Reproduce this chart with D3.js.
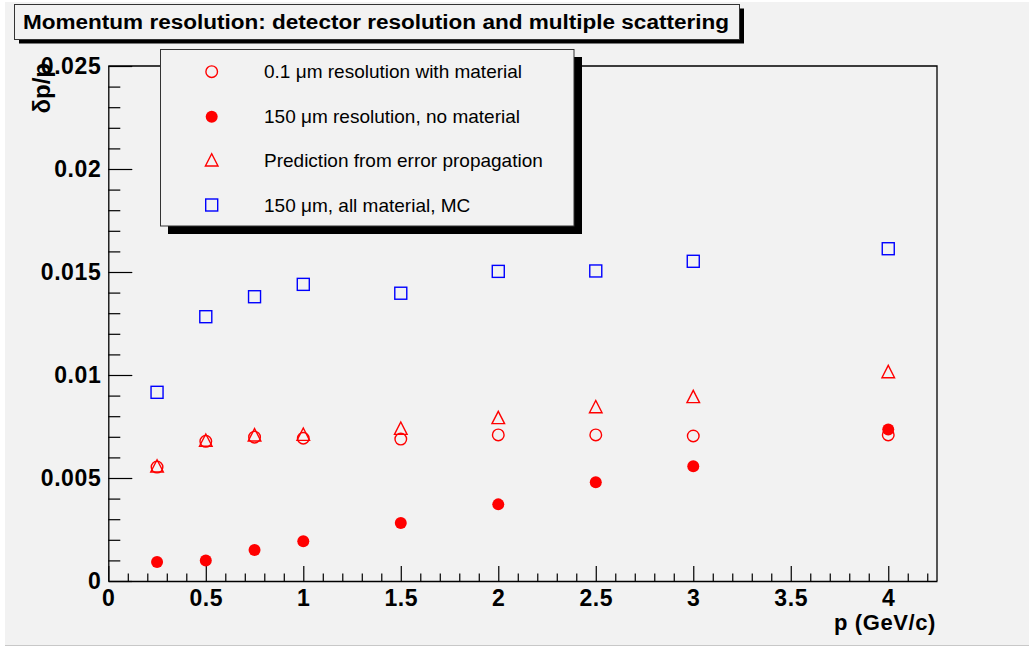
<!DOCTYPE html>
<html><head><meta charset="utf-8">
<script src="https://cdn.jsdelivr.net/npm/d3@7"></script>
<style>
html,body{margin:0;padding:0;background:#fff;}
text{font-family:"Liberation Sans",Arial,Helvetica,sans-serif;}
</style></head>
<body><svg id="c" width="1031" height="647"></svg>
<script>
// ---- data ----
const momentum = [0.25, 0.5, 0.75, 1, 1.5, 2, 2.5, 3, 4];
const res01WithMaterial = [0.00553, 0.00678, 0.00698, 0.00693, 0.00689, 0.00709, 0.00709, 0.00704, 0.00709];
const res150NoMaterial = [0.00092, 0.00100, 0.00150, 0.00193, 0.00282, 0.00372, 0.00479, 0.00557, 0.00736];
const predictionErrProp = [0.00558, 0.00683, 0.00709, 0.00712, 0.00741, 0.00793, 0.00846, 0.00895, 0.01016];
const res150AllMaterialMC = [0.00916, 0.01283, 0.01380, 0.01440, 0.01397, 0.01503, 0.01505, 0.01552, 0.01613];
const xTicks = [0, 0.5, 1, 1.5, 2, 2.5, 3, 3.5, 4];
const yTicks = [0, 0.005, 0.01, 0.015, 0.02, 0.025];
const legendLabels = ["0.1 \u03bcm resolution with material", "150 \u03bcm resolution, no material",
  "Prediction from error propagation", "150 \u03bcm, all material, MC"];
const titleText = "Momentum resolution: detector resolution and multiple scattering";

const svg = d3.select("#c");
// canvas
svg.append("rect").attr("x",5).attr("y",2).attr("width",1024).attr("height",643).attr("fill","#f2f2f2");
svg.append("line").attr("x1",5).attr("x2",1029).attr("y1",645.5).attr("y2",645.5).attr("stroke","#c8c8c8");

const x = d3.scaleLinear().domain([0, 4.25]).range([108.3, 937]);
const y = d3.scaleLinear().domain([0, 0.025]).range([581, 66]);

// frame top/right
svg.append("path").attr("d", `M${x(0)},${y(0.025)}H${x(4.25)}V${y(0)}`)
  .attr("fill","none").attr("stroke","#000").attr("stroke-width",1.3);

// minor ticks
const xMinor = d3.range(1, 43).map(i => i/10).filter(v => Math.abs(v*2 - Math.round(v*2)) > 1e-6);
const yMinor = d3.range(1, 25).map(i => i/1000).filter(v => Math.abs(v*200 - Math.round(v*200)) > 1e-6);

const gx = svg.append("g").attr("transform", `translate(0,${y(0)})`);
gx.call(d3.axisBottom(x).tickValues(xMinor).tickSize(-7.5).tickSizeOuter(0).tickFormat(""));
gx.call(g => g.select(".domain").remove());
const gx2 = svg.append("g").attr("transform", `translate(0,${y(0)})`);
gx2.call(d3.axisBottom(x).tickValues(xTicks).tickSize(-15).tickSizeOuter(0).tickPadding(9)
  .tickFormat(d => d3.format("~g")(d)));

const gy = svg.append("g").attr("transform", `translate(${x(0)},0)`);
gy.call(d3.axisLeft(y).tickValues(yMinor).tickSize(-12).tickSizeOuter(0).tickFormat(""));
gy.call(g => g.select(".domain").remove());
const gy2 = svg.append("g").attr("transform", `translate(${x(0)},0)`);
gy2.call(d3.axisLeft(y).tickValues(yTicks).tickSize(-24).tickSizeOuter(0).tickPadding(7)
  .tickFormat(d => d === 0 ? "0" : d3.format(".3~f")(d)));

[gx, gx2, gy, gy2].forEach(g => {
  g.selectAll("line").attr("stroke","#000").attr("stroke-width",1.2);
  g.selectAll(".domain").attr("stroke","#000").attr("stroke-width",1.3);
  g.selectAll("text").attr("font-size",23).attr("font-weight","bold").attr("fill","#000")
    .attr("letter-spacing",0.6)
    .attr("font-family",'"Liberation Sans",Arial,sans-serif');
});

// axis titles
svg.append("text").attr("x", 936).attr("y", 630).attr("text-anchor","end")
  .attr("font-size",22).attr("font-weight","bold").attr("letter-spacing",0.6).text("p (GeV/c)");
svg.append("text").attr("transform","translate(50,63) rotate(-90)").attr("text-anchor","end")
  .attr("font-size",24).attr("font-weight","bold").text("\u03b4p/p");

// markers
const red = "#ff0000", blue = "#0000ff";
const mk = {
  openCircle: (g, cx, cy) => g.append("circle").attr("cx",cx).attr("cy",cy).attr("r",5.8)
    .attr("fill","none").attr("stroke",red).attr("stroke-width",1.4),
  fullCircle: (g, cx, cy) => g.append("circle").attr("cx",cx).attr("cy",cy).attr("r",6)
    .attr("fill",red),
  openTriangle: (g, cx, cy) => g.append("path")
    .attr("d", `M${cx-6.3},${cy+6}L${cx+6.3},${cy+6}L${cx},${cy-6.3}Z`)
    .attr("fill","none").attr("stroke",red).attr("stroke-width",1.4),
  openSquare: (g, cx, cy) => g.append("rect").attr("x",cx-6).attr("y",cy-6).attr("width",12).attr("height",12)
    .attr("fill","none").attr("stroke",blue).attr("stroke-width",1.4)
};
const series = [
  {vals: res01WithMaterial, m: mk.openCircle},
  {vals: res150NoMaterial, m: mk.fullCircle},
  {vals: predictionErrProp, m: mk.openTriangle},
  {vals: res150AllMaterialMC, m: mk.openSquare}
];
const gp = svg.append("g");
series.forEach(s => momentum.forEach((p, i) => s.m(gp, x(p), y(s.vals[i]))));

// legend
const lg = svg.append("g");
lg.append("rect").attr("x",168).attr("y",57).attr("width",414).attr("height",177).attr("fill","#000");
lg.append("rect").attr("x",160.5).attr("y",49.5).attr("width",413.5).attr("height",176.5)
  .attr("fill","#f2f2f2").attr("stroke","#333").attr("stroke-width",1);
const rowY = [71.7, 116.7, 160, 205];
series.forEach((s, i) => {
  s.m(lg, 211.7, rowY[i]);
  lg.append("text").attr("x",264).attr("y",rowY[i]).attr("dy","0.35em")
    .attr("font-size",19).attr("fill","#000").text(legendLabels[i]);
});

// title
const tg = svg.append("g");
tg.append("rect").attr("x",19).attr("y",8.5).attr("width",725).attr("height",35).attr("fill","#000");
tg.append("rect").attr("x",14.5).attr("y",4.5).attr("width",725).attr("height",35)
  .attr("fill","#f2f2f2").attr("stroke","#333").attr("stroke-width",1);
tg.append("text").attr("x",23).attr("y",29).attr("font-size",20).attr("font-weight","bold")
  .attr("textLength",706).attr("lengthAdjust","spacingAndGlyphs").text(titleText);
</script></body></html>
